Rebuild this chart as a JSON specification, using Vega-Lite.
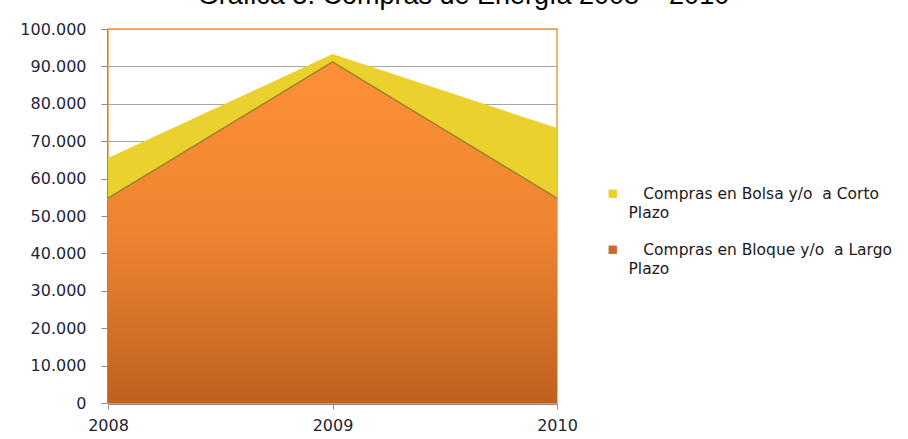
{
  "$schema": "https://vega.github.io/schema/vega-lite/v6.json",
  "width": 449,
  "height": 374,
  "autosize": {"type": "none"},
  "padding": {"left": 108, "top": 29, "right": 351, "bottom": 36},
  "background": "white",
  "title": {
    "text": "Gráfica 3. Compras de Energía  2008 – 2010",
    "font": "Liberation Sans",
    "fontSize": 27,
    "fontWeight": "normal",
    "color": "#000000",
    "baseline": "alphabetic",
    "anchor": "middle",
    "frame": "group",
    "offset": 4,
    "dy": 14,
    "dx": 131
  },
  "config": {
    "view": {"stroke": "#F79646", "strokeWidth": 1.5},
    "font": "DejaVu Sans"
  },
  "data": {
    "values": [
      {"year": "2008", "serie": "Compras en Bloque y/o  a Largo Plazo", "orden": 1, "valor": 54800},
      {"year": "2009", "serie": "Compras en Bloque y/o  a Largo Plazo", "orden": 1, "valor": 91200},
      {"year": "2010", "serie": "Compras en Bloque y/o  a Largo Plazo", "orden": 1, "valor": 54800},
      {"year": "2008", "serie": "Compras en Bolsa y/o  a Corto Plazo", "orden": 2, "valor": 10700},
      {"year": "2009", "serie": "Compras en Bolsa y/o  a Corto Plazo", "orden": 2, "valor": 2100},
      {"year": "2010", "serie": "Compras en Bolsa y/o  a Corto Plazo", "orden": 2, "valor": 18700}
    ]
  },
  "encoding": {
    "x": {
      "field": "year",
      "type": "ordinal",
      "scale": {"type": "point", "padding": 0},
      "axis": {
        "title": null,
        "labelAngle": 0,
        "labelFont": "DejaVu Sans",
        "labelFontSize": 16,
        "labelColor": "#1F1F2F",
        "labelPadding": 8,
        "tickSize": 5,
        "tickColor": "#8C8C8C",
        "domainColor": "#8C8C8C",
        "grid": false,
        "offset": 1
      }
    },
    "y": {
      "field": "valor",
      "type": "quantitative",
      "stack": "zero",
      "scale": {"domain": [0, 100000], "nice": false},
      "axis": {
        "title": null,
        "values": [0, 10000, 20000, 30000, 40000, 50000, 60000, 70000, 80000, 90000, 100000],
        "labelOverlap": false,
        "labelExpr": "replace(format(datum.value, ','), ',', '.')",
        "labelFont": "DejaVu Sans",
        "labelFontSize": 16,
        "labelColor": "#1F1F3F",
        "labelPadding": 15,
        "tickSize": 6,
        "tickColor": "#8C8C8C",
        "domainColor": "#8C8C8C",
        "gridColor": {"condition": {"test": "datum.value == 100000", "value": "#F79646"}, "value": "#A6A6A6"},
        "offset": 1
      }
    }
  },
  "layer": [
    {
      "mark": {"type": "area", "opacity": 1},
      "encoding": {
        "order": {"field": "orden", "type": "quantitative"},
        "color": {
          "field": "serie",
          "type": "nominal",
          "scale": {
            "domain": ["Compras en Bolsa y/o  a Corto Plazo", "Compras en Bloque y/o  a Largo Plazo"],
            "range": ["#EBD12E", "#C9692A"]
          },
          "legend": {
            "orient": "none",
            "legendX": 497,
            "legendY": 157,
            "title": null,
            "padding": 0,
            "symbolType": "square",
            "symbolSize": 70,
            "symbolStrokeWidth": 0,
            "labelFont": "DejaVu Sans",
            "labelFontSize": 15.5,
            "labelColor": "#1A1A1A",
            "labelOffset": 8,
            "labelLimit": 400,
            "labelBaseline": "middle",
            "rowPadding": 20,
            "encoding": {"labels": {"lineHeight": {"value": 19}}},
            "labelExpr": "datum.label == 'Compras en Bolsa y/o  a Corto Plazo' ? ['\u200b\u00a0\u00a0\u00a0Compras en Bolsa y/o\u00a0 a Corto', 'Plazo'] : ['\u200b\u00a0\u00a0\u00a0Compras en Bloque y/o\u00a0 a Largo', 'Plazo']"
          }
        }
      }
    },
    {
      "transform": [{"filter": "datum.orden == 1"}],
      "mark": {
        "type": "area",
        "color": {
          "gradient": "linear",
          "x1": 0, "y1": 0, "x2": 0, "y2": 1,
          "stops": [
            {"offset": 0, "color": "#FC9138"},
            {"offset": 0.5, "color": "#EE8430"},
            {"offset": 1, "color": "#BF611F"}
          ]
        }
      },
      "encoding": {}
    },
    {
      "transform": [{"filter": "datum.orden == 1"}],
      "mark": {"type": "line", "color": "#8C7A22", "strokeWidth": 1.5, "opacity": 0.8},
      "encoding": {}
    }
  ]
}
